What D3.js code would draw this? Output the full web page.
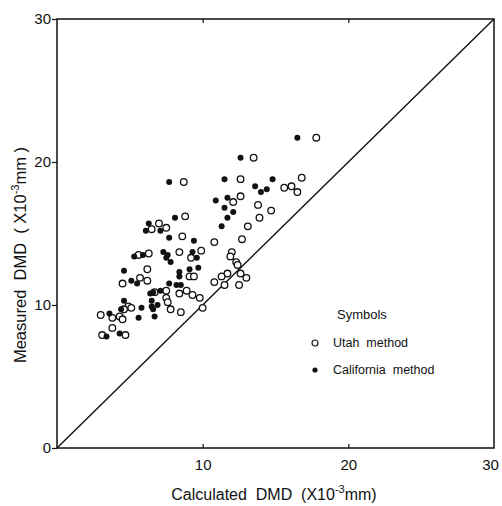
<!DOCTYPE html>
<html>
<head>
<meta charset="utf-8">
<script src="https://cdn.jsdelivr.net/npm/d3@7"></script>
<style>
  body { margin: 0; background: #fff; }
  text { font-family: "Liberation Sans", "DejaVu Sans", sans-serif; fill: #111; }
</style>
</head>
<body>
<div id="chart"></div>
<script>
// Calculated vs measured DMD (x10^-3 mm)

// Utah method (open circles): [calculated, measured]
const utahCalc = [17.8, 13.5, 8.7, 12.6, 16.8, 15.6, 16.1, 16.5, 12.1, 12.6, 13.8, 14.7, 13.9, 13.1, 8.8,
  7.0, 6.5, 7.5, 8.6, 10.8, 12.7, 5.6, 6.3, 8.4, 9.9, 9.2, 12.0, 11.9, 12.3, 12.4, 6.2, 5.7, 6.2, 4.5,
  9.1, 9.4, 10.8, 11.7, 11.3, 12.6, 13.0, 11.5, 12.5, 8.4, 8.9, 9.3, 9.8, 10.0, 6.7, 7.5, 7.5, 7.6, 7.8,
  8.5, 4.9, 5.1, 4.6, 3.0, 3.8, 4.3, 4.5, 3.8, 3.1, 4.7];
const utahMeas = [21.7, 20.3, 18.6, 18.8, 18.9, 18.2, 18.3, 17.9, 17.2, 17.6, 17.0, 16.6, 16.1, 15.5, 16.2,
  15.7, 15.3, 15.4, 14.8, 14.4, 14.6, 13.5, 13.6, 13.7, 13.8, 13.3, 13.7, 13.4, 13.0, 12.8, 12.5, 11.9, 11.7, 11.5,
  12.0, 12.0, 11.6, 12.2, 12.0, 12.2, 11.9, 11.4, 11.4, 10.8, 11.0, 10.7, 10.5, 9.8, 10.9, 11.0, 10.5, 10.2, 9.7,
  9.5, 9.9, 9.8, 9.7, 9.3, 9.1, 9.2, 9.0, 8.4, 7.9, 7.9];

// California method (filled dots)
const califCalc = [16.5, 12.6, 7.7, 11.5, 14.8, 13.6, 14.0, 14.4, 10.9, 11.7, 11.5, 12.1, 11.7, 11.3, 8.1,
  6.3, 6.1, 7.1, 7.7, 9.4, 5.3, 5.9, 7.3, 7.6, 7.5, 7.8, 9.3, 9.6, 9.7, 4.6, 5.1, 5.5, 8.4, 8.4, 9.1,
  7.7, 8.2, 8.5, 6.4, 6.6, 7.1, 6.5, 6.5, 6.9, 6.6, 6.7, 5.8, 5.6, 4.6, 4.4, 3.6, 3.4, 4.3];
const califMeas = [21.7, 20.3, 18.6, 18.8, 18.8, 18.3, 17.9, 18.1, 17.3, 17.5, 16.8, 16.5, 16.1, 15.5, 16.1,
  15.7, 15.2, 15.2, 14.7, 14.5, 13.4, 13.5, 13.7, 13.5, 13.3, 13.0, 13.7, 13.3, 12.6, 12.4, 11.7, 11.5, 12.3, 12.0, 12.5,
  11.5, 11.4, 11.4, 10.8, 10.9, 11.0, 10.3, 9.9, 10.0, 9.7, 9.2, 9.8, 9.1, 10.3, 9.7, 9.4, 7.8, 8.0];

const axisTicks = [0, 10, 20, 30];
const legendLabels = ["Utah  method", "California  method"];

const width = 502, height = 506;
const margin = {top: 19, right: 8, bottom: 58, left: 57};

const svg = d3.select("#chart").append("svg")
    .attr("width", width)
    .attr("height", height);

const x = d3.scaleLinear().domain([0, 30]).range([margin.left, width - margin.right]);
const y = d3.scaleLinear().domain([0, 30]).range([height - margin.bottom, margin.top]);

// frame
svg.append("rect")
    .attr("x", x(0)).attr("y", y(30))
    .attr("width", x(30) - x(0)).attr("height", y(0) - y(30))
    .attr("fill", "none").attr("stroke", "#111").attr("stroke-width", 1.5);

// left axis, small outward ticks
const gy = svg.append("g")
    .attr("transform", "translate(" + x(0) + ",0)")
    .call(d3.axisLeft(y).tickValues(axisTicks).tickSize(5).tickPadding(1).tickFormat(d3.format("d")));
gy.select(".domain").remove();
gy.selectAll("text").style("font-size", "15px");

// bottom axis, inward ticks
const gx = svg.append("g")
    .attr("transform", "translate(0," + y(0) + ")")
    .call(d3.axisBottom(x).tickValues(axisTicks.slice(1)).tickSizeInner(-4).tickSizeOuter(0).tickPadding(11));
gx.select(".domain").remove();
gx.selectAll("text").style("font-size", "15px");
gx.selectAll(".tick").filter(d => d === 30).select("line").remove();
gx.selectAll(".tick").filter(d => d === 30).select("text").attr("dx", "-4");

// top axis, inward ticks, no labels
const gt = svg.append("g")
    .attr("transform", "translate(0," + y(30) + ")")
    .call(d3.axisTop(x).tickValues([10, 20]).tickSizeInner(-4).tickSizeOuter(0).tickFormat(""));
gt.select(".domain").remove();

svg.selectAll(".tick line").attr("stroke", "#111").attr("stroke-width", 1.2);

// 1:1 line
svg.append("line")
    .attr("x1", x(0)).attr("y1", y(0))
    .attr("x2", x(30)).attr("y2", y(30))
    .attr("stroke", "#111").attr("stroke-width", 1.4);

// Utah points
svg.selectAll(".utah")
    .data(utahCalc.map((c, i) => [c, utahMeas[i]]))
    .enter()
    .append("circle")
        .attr("class", "utah")
        .attr("cx", d => x(d[0]))
        .attr("cy", d => y(d[1]))
        .attr("r", 3.3)
        .attr("fill", "#fff")
        .attr("stroke", "#111")
        .attr("stroke-width", 1.3);

// California points
svg.selectAll(".calif")
    .data(califCalc.map((c, i) => [c, califMeas[i]]))
    .enter()
    .append("circle")
        .attr("class", "calif")
        .attr("cx", d => x(d[0]))
        .attr("cy", d => y(d[1]))
        .attr("r", 3)
        .attr("fill", "#111");

// legend
const lg = svg.append("g").attr("transform", "translate(315,0)");
lg.append("text")
    .attr("x", 22).attr("y", 319)
    .style("font-size", "13px")
    .text("Symbols");
lg.append("circle")
    .attr("cx", 0).attr("cy", 343).attr("r", 3)
    .attr("fill", "#fff").attr("stroke", "#111").attr("stroke-width", 1.2);
lg.append("circle")
    .attr("cx", 0).attr("cy", 370).attr("r", 2.6)
    .attr("fill", "#111");
lg.selectAll(".lgtext")
    .data(legendLabels)
    .enter()
    .append("text")
        .attr("class", "lgtext")
        .attr("x", 18)
        .attr("y", (d, i) => 347 + i * 27)
        .style("font-size", "12.5px")
        .attr("xml:space", "preserve")
        .text(d => d);

// axis labels
const xl = svg.append("text")
    .attr("x", 274).attr("y", 500)
    .style("text-anchor", "middle")
    .style("font-size", "16px")
    .attr("xml:space", "preserve");
xl.append("tspan").text("Calculated  DMD  (X10");
xl.append("tspan").attr("dy", -7).style("font-size", "11px").text("-3");
xl.append("tspan").attr("dy", 7).text("mm)");

const yl = svg.append("text")
    .attr("transform", "translate(26,255) rotate(-90)")
    .style("text-anchor", "middle")
    .style("font-size", "16.5px")
    .attr("xml:space", "preserve");
yl.append("tspan").text("Measured  DMD  ( X10");
yl.append("tspan").attr("dy", -7).style("font-size", "11px").text("-3");
yl.append("tspan").attr("dy", 7).text("mm )");
</script>
</body>
</html>
